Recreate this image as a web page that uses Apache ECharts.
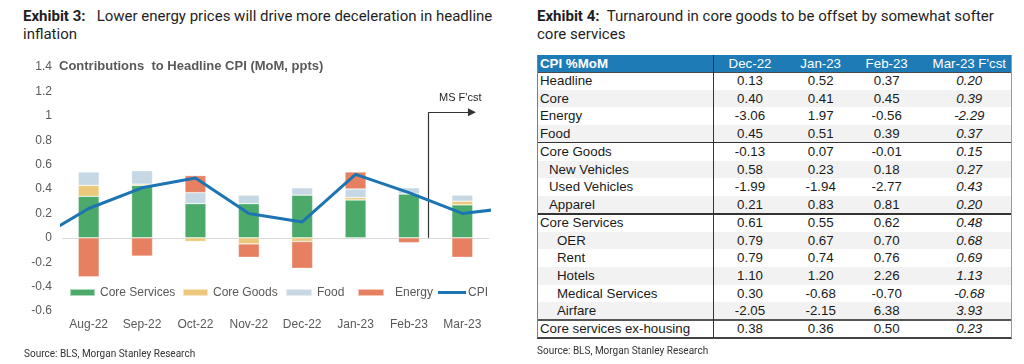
<!DOCTYPE html>
<html>
<head>
<meta charset="utf-8">
<script src="https://cdn.jsdelivr.net/npm/echarts/dist/echarts.min.js"></script>
<style>
  html, body { margin: 0; padding: 0; background: #fff; }
  body { width: 1024px; height: 364px; position: relative; overflow: hidden; font-family: Roboto, "Liberation Sans", Arial, sans-serif; }
  .exhibit { position: absolute; font-size: 15px; line-height: 18px; color: #1e1e1e; white-space: nowrap; }
  .exhibit b { font-weight: 700; }
  .source { position: absolute; font-size: 10px; color: #333; white-space: nowrap; }
  #chart { position: absolute; left: 0; top: 0; width: 520px; height: 364px; }
  #table { position: absolute; left: 537px; top: 55px; width: 475px; height: 283px; font-family: "Liberation Sans", Arial, sans-serif; font-size: 13.3px; color: #1a1a1a; }
  .row { position: absolute; left: 0; width: 475px; }
  .cell { position: absolute; top: 0; white-space: nowrap; }
  .hline { position: absolute; left: 0; width: 475px; }
  .vline { position: absolute; }
</style>
</head>
<body>
<div class="exhibit" style="left:23px; top:7px;"><b>Exhibit 3:</b>&nbsp;&nbsp; Lower energy prices will drive more deceleration in headline<br>inflation</div>
<div class="exhibit" style="left:537px; top:7px;"><b>Exhibit 4:</b>&nbsp; Turnaround in core goods to be offset by somewhat softer<br>core services</div>
<div id="chart"></div>
<div id="table"></div>
<div class="source" style="left:24px; top:348px;">Source: BLS, Morgan Stanley Research</div>
<div class="source" style="left:537px; top:345px;">Source: BLS, Morgan Stanley Research</div>
<script>
// ---------- Exhibit 3 data ----------
const categories = ['Aug-22', 'Sep-22', 'Oct-22', 'Nov-22', 'Dec-22', 'Jan-23', 'Feb-23', 'Mar-23'];
const coreServices = [0.34, 0.43, 0.28, 0.28, 0.35, 0.31, 0.36, 0.27];
const coreGoods    = [0.09, 0.01, -0.03, -0.05, -0.03, 0.02, 0.00, 0.03];
const food         = [0.11, 0.11, 0.09, 0.07, 0.06, 0.07, 0.05, 0.05];
const energy       = [-0.32, -0.15, 0.14, -0.11, -0.22, 0.14, -0.04, -0.16];
const cpi          = [0.24, 0.41, 0.49, 0.20, 0.13, 0.52, 0.37, 0.20];
const cpiPrev = -0.02;   // Jul-22 (line runs in from the left edge)
const cpiNext = 0.25;    // Apr-23 (line runs out to the right edge)
const forecastStart = 6.37;  // position of the "MS F'cst" marker on the category scale
const forecastEnd = 7.18;
const forecastTop = 1.03;

// ---------- Exhibit 4 data ----------
const tableHeader = ['CPI %MoM', 'Dec-22', 'Jan-23', 'Feb-23', "Mar-23 F'cst"];
const rowLabels = ['Headline', 'Core', 'Energy', 'Food', 'Core Goods', 'New Vehicles', 'Used Vehicles', 'Apparel',
  'Core Services', 'OER', 'Rent', 'Hotels', 'Medical Services', 'Airfare', 'Core services ex-housing'];
const rowIndent = [0, 0, 0, 0, 0, 1, 1, 1, 0, 2, 2, 2, 2, 2, 0];
const dec22 = [0.13, 0.40, -3.06, 0.45, -0.13, 0.58, -1.99, 0.21, 0.61, 0.79, 0.79, 1.10, 0.30, -2.05, 0.38];
const jan23 = [0.52, 0.41, 1.97, 0.51, 0.07, 0.23, -1.94, 0.83, 0.55, 0.67, 0.74, 1.20, -0.68, -2.15, 0.36];
const feb23 = [0.37, 0.45, -0.56, 0.39, -0.01, 0.18, -2.77, 0.81, 0.62, 0.70, 0.76, 2.26, -0.70, 6.38, 0.50];
const mar23 = [0.20, 0.39, -2.29, 0.37, 0.15, 0.27, 0.43, 0.20, 0.48, 0.68, 0.69, 1.13, -0.68, 3.93, 0.23];

// ---------- chart ----------
const axisGrey = '#595959';
const font = '"Liberation Sans", Arial, sans-serif';
const chart = echarts.init(document.getElementById('chart'), null, { renderer: 'canvas' });

const lineData = [[-1, cpiPrev]].concat(cpi.map((v, i) => [i, v])).concat([[cpi.length, cpiNext]]);

function barSeries(name, data, color, extra) {
  return Object.assign({
    name: name, type: 'bar', stack: 'contrib', data: data, barWidth: 21,
    itemStyle: { color: color, borderColor: 'rgba(255,255,255,0.55)', borderWidth: 0.6 }, xAxisIndex: 0, yAxisIndex: 0
  }, extra || {});
}

function legendText(pad) {
  return { color: axisGrey, fontSize: 12, fontFamily: font, lineHeight: 14, padding: pad || 0 };
}
function legendAt(name, left, opts) {
  return Object.assign({
    data: [name], left: left, top: 285.5, orient: 'horizontal', padding: 0,
    itemWidth: 25, itemHeight: 7, icon: 'rect', selectedMode: false,
    textStyle: legendText()
  }, opts || {});
}

chart.setOption({
  animation: false,
  title: {
    text: 'Contributions  to Headline CPI (MoM, ppts)', left: 59, top: 60, padding: 0,
    textStyle: { color: axisGrey, fontSize: 13, fontWeight: 'bold', fontFamily: font }
  },
  legend: [
    legendAt('Core Services', 69),
    legendAt('Core Goods', 182),
    legendAt('Food', 285, { itemWidth: 26 }),
    legendAt('Energy', 357, { itemWidth: 26, textStyle: legendText([0, 0, 0, 6]) }),
    legendAt('CPI', 438, { itemWidth: 28, itemHeight: 3, textStyle: legendText([0, 0, 0, -3]) })
  ],
  grid: { left: 62, right: 31, top: 67, height: 244, containLabel: false, outerBoundsMode: 'none' },
  xAxis: [
    {
      type: 'category', data: categories, boundaryGap: true,
      axisLine: { show: false }, axisTick: { show: false }, splitLine: { show: false },
      axisLabel: { color: axisGrey, fontSize: 12, fontFamily: font, margin: 8 }
    },
    { type: 'value', min: -0.5, max: categories.length - 0.5, show: false }
  ],
  yAxis: {
    type: 'value', min: -0.6, max: 1.4, interval: 0.2,
    axisLine: { show: false }, axisTick: { show: false }, splitLine: { show: false },
    axisLabel: { color: axisGrey, fontSize: 12, fontFamily: font, margin: 10,
      formatter: v => String(Math.round(v * 10) / 10) }
  },
  series: [
    barSeries('Core Services', coreServices, '#4BAA69', {
      markLine: {
        silent: true, symbol: ['none', 'none'], label: { show: false },
        lineStyle: { color: '#d9d9d9', width: 1, type: 'solid' },
        data: [{ yAxis: 0 }], z: 1
      }
    }),
    barSeries('Core Goods', coreGoods, '#ECC87A'),
    barSeries('Food', food, '#C5D8E3'),
    barSeries('Energy', energy, '#E78060'),
    {
      name: 'CPI', type: 'line', data: lineData, xAxisIndex: 1, yAxisIndex: 0,
      symbol: 'none', clip: true, z: 5,
      lineStyle: { color: '#1C75B2', width: 3 }, itemStyle: { color: '#1C75B2' },
      markLine: {
        silent: true, label: { show: false }, symbol: ['none', 'none'],
        lineStyle: { color: '#333', width: 1.2, type: 'solid' },
        data: [
          [{ coord: [forecastStart, 0] }, { coord: [forecastStart, forecastTop] }],
          [{ coord: [forecastStart, forecastTop] }, { coord: [forecastEnd, forecastTop], symbol: 'triangle', symbolSize: [8, 8] }]
        ]
      }
    }
  ],
  graphic: [
    { type: 'text', left: 439, top: 92, style: { text: "MS F'cst", fill: '#262626', font: '11px "Liberation Sans", Arial, sans-serif' } }
  ]
});

// ---------- table ----------
const table = document.getElementById('table');
const headerH = 17;
const rowH = 17.73;
const colCenters = [213, 283.7, 349.7, 432.3];
const colW = 76;
const firstColW = 176;

function addCell(parent, text, css) {
  const s = document.createElement('div');
  s.className = 'cell';
  s.textContent = text;
  Object.assign(s.style, css);
  parent.appendChild(s);
}

// header
const hdr = document.createElement('div');
hdr.className = 'row';
Object.assign(hdr.style, { top: '0px', height: headerH + 'px', background: '#1E7BB6', color: '#fff' });
addCell(hdr, tableHeader[0], { left: '3px', lineHeight: headerH + 'px', fontWeight: 'bold' });
for (let c = 1; c < tableHeader.length; c++) {
  addCell(hdr, tableHeader[c], { left: (colCenters[c - 1] - colW / 2) + 'px', width: colW + 'px', textAlign: 'center', lineHeight: headerH + 'px' });
}
table.appendChild(hdr);

const cols = [dec22, jan23, feb23, mar23];
for (let r = 0; r < rowLabels.length; r++) {
  const row = document.createElement('div');
  row.className = 'row';
  Object.assign(row.style, { top: (headerH + r * rowH) + 'px', height: rowH + 'px', background: r % 2 === 1 ? '#F2F2F2' : '#FFFFFF' });
  const indent = [3, 12, 20][rowIndent[r]];
  addCell(row, rowLabels[r], { left: indent + 'px', lineHeight: rowH + 'px' });
  for (let c = 0; c < cols.length; c++) {
    addCell(row, cols[c][r].toFixed(2), {
      left: (colCenters[c] - colW / 2) + 'px', width: colW + 'px', textAlign: 'center', lineHeight: rowH + 'px',
      fontStyle: c === 3 ? 'italic' : 'normal'
    });
  }
  table.appendChild(row);
}

function hline(y, h, color) {
  const d = document.createElement('div');
  d.className = 'hline';
  Object.assign(d.style, { top: y + 'px', height: h + 'px', background: color });
  table.appendChild(d);
}
function vline(x, y0, y1, w, color) {
  const d = document.createElement('div');
  d.className = 'vline';
  Object.assign(d.style, { left: x + 'px', top: y0 + 'px', width: w + 'px', height: (y1 - y0) + 'px', background: color });
  table.appendChild(d);
}
const totalH = headerH + rowLabels.length * rowH;
hline(headerH - 0.5, 1, '#4a4a4a');
hline(headerH + 4 * rowH - 0.5, 1, '#333');
hline(headerH + 8 * rowH - 1, 2, '#333');
hline(headerH + 14 * rowH - 1, 2, '#555');
hline(totalH - 1, 2, '#444');
vline(0, 0, totalH, 1, '#7f7f7f');
vline(474, 0, totalH, 1, '#9a9a9a');
vline(firstColW, 0, totalH, 1.3, '#333');
</script>
</body>
</html>
